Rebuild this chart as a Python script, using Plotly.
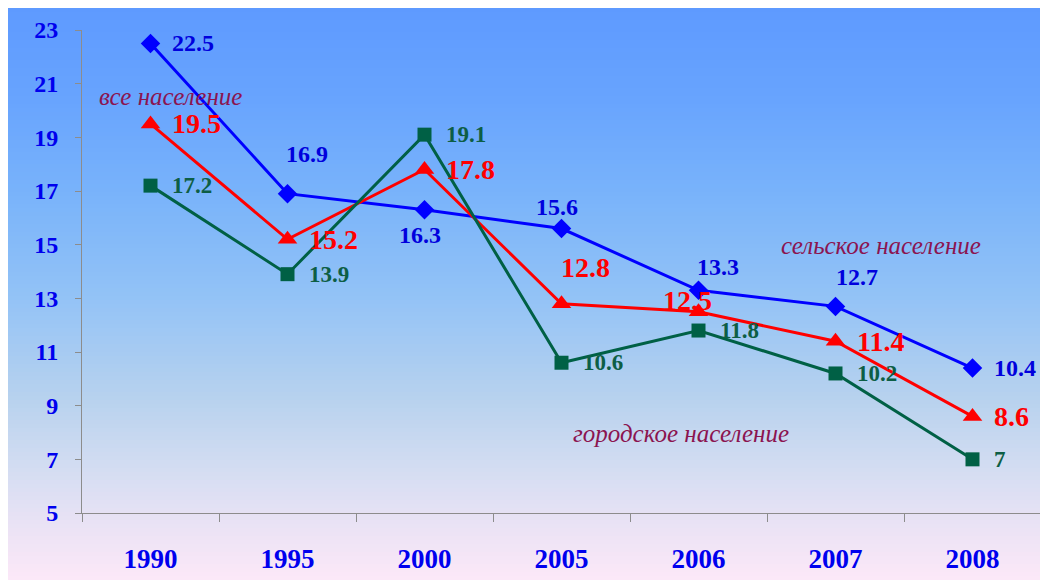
import plotly.graph_objects as go

years = ["1990", "1995", "2000", "2005", "2006", "2007", "2008"]
rural = [22.5, 16.9, 16.3, 15.6, 13.3, 12.7, 10.4]      # сельское население
total = [19.5, 15.2, 17.8, 12.8, 12.5, 11.4, 8.6]       # все население
urban = [17.2, 13.9, 19.1, 10.6, 11.8, 10.2, 7]         # городское население
y_ticks = [5, 7, 9, 11, 13, 15, 17, 19, 21, 23]

xi = list(range(len(years)))

# label placement (style): (xshift, yshift, xanchor)
R = (19, 0, "left")
rural_pos = [R, (19, 40, "center"), (-5, -25, "center"), (-5, 22, "center"),
             (19, 23, "center"), (21, 29, "center"), R]
total_pos = [R, R, R, (24, 36, "center"), (-11, 11, "center"), R, R]
urban_pos = [R] * 7

OFF = 8  # page body margin
W, H = 1048, 580
L, RGT, T, B = 82 - OFF, 1041 - OFF, 30 - OFF, 513 - OFF

fig = go.Figure()

BLUE = "#0000ff"
RED = "#ff0000"
GREEN = "#006045"

fig.add_trace(go.Scatter(x=xi, y=rural, mode="lines+markers",
                         line=dict(color=BLUE, width=3),
                         marker=dict(symbol="diamond", size=15, color=BLUE),
                         showlegend=False, cliponaxis=False))
fig.add_trace(go.Scatter(x=xi, y=total, mode="lines+markers",
                         line=dict(color=RED, width=3),
                         marker=dict(symbol="triangle-up", size=17, color=RED),
                         showlegend=False, cliponaxis=False))
fig.add_trace(go.Scatter(x=xi, y=urban, mode="lines+markers",
                         line=dict(color=GREEN, width=3),
                         marker=dict(symbol="square", size=14, color=GREEN),
                         showlegend=False, cliponaxis=False))

def fmt(v):
    return ("%g" % v)

def add_labels(vals, pos, color, size):
    for x, v, (dx, dy, xa) in zip(xi, vals, pos):
        fig.add_annotation(x=x, y=v, text=fmt(v), showarrow=False,
                           xanchor=xa, yanchor="middle", xshift=dx, yshift=dy,
                           font=dict(family="Liberation Serif", size=size,
                                     color=color, weight="bold"))

add_labels(rural, rural_pos, "#0000dd", 24)
add_labels(urban, urban_pos, "#0d5e45", 23)
add_labels(total, total_pos, "#ff0000", 28)

# gradient background (page pixels -> paper coords)
stops = [(8, (94, 154, 255)), (100, (104, 164, 254)), (200, (122, 180, 250)),
         (300, (148, 195, 246)), (400, (184, 210, 238)), (470, (212, 221, 242)),
         (530, (236, 227, 245)), (580, (252, 232, 248))]

def col_at(py):
    for (y0, c0), (y1, c1) in zip(stops[:-1], stops[1:]):
        if y0 <= py <= y1:
            t = (py - y0) / (y1 - y0)
            return tuple(round(a + (b - a) * t) for a, b in zip(c0, c1))
    return stops[-1][1]

# page pixel -> paper coordinates
def px2x(px):
    return (px - OFF - L) / (RGT - L)

def py2y(py):
    return (B - (py - OFF)) / (B - T)

shapes = []
step = 4
py = 8
while py < H + 10:
    c = col_at(py + step / 2)
    shapes.append(dict(type="rect", xref="paper", yref="paper", layer="below",
                       x0=px2x(0), x1=px2x(W + 20), y0=py2y(py), y1=py2y(py + step + 0.6),
                       line=dict(width=0), fillcolor="rgb(%d,%d,%d)" % c))
    py += step

# italic series captions
cap_font = dict(family="Liberation Serif", size=25, color="#8b1450", style="italic")
for txt, cx, cy in [("все население", 170, 97), ("сельское население", 881, 245),
                    ("городское население", 681, 433)]:
    fig.add_annotation(xref="paper", yref="paper", x=px2x(cx), y=py2y(cy),
                       xanchor="center", yanchor="middle",
                       text=txt, showarrow=False, font=cap_font)

fig.update_layout(
    width=W, height=H,
    margin=dict(l=L, r=W - RGT, t=T, b=H - B, autoexpand=False),
    paper_bgcolor="white", plot_bgcolor="rgba(0,0,0,0)",
    shapes=shapes,
    showlegend=False,
)
fig.update_xaxes(range=[-0.5, len(years) - 0.5], tickmode="array", tickvals=xi, ticktext=years,
                 ticks="", automargin=False,
                 minor=dict(tick0=-0.5, dtick=1, ticks="outside", ticklen=8, tickcolor="#8c8c8c",
                            showgrid=False),
                 showline=True, linecolor="#8c8c8c", linewidth=1,
                 showgrid=False, zeroline=False, ticklabelstandoff=22, tickangle=0,
                 tickfont=dict(family="Liberation Serif", size=27, color="#0000ee", weight="bold"))
fig.update_yaxes(range=[5, 23], tickvals=y_ticks, ticks="outside", ticklen=6, automargin=False,
                 tickcolor="#8c8c8c", showline=True, linecolor="#8c8c8c", linewidth=1,
                 showgrid=False, zeroline=False, ticklabelstandoff=12,
                 tickfont=dict(family="Liberation Serif", size=24, color="#0000ee", weight="bold"))

fig.write_html("out.html")
